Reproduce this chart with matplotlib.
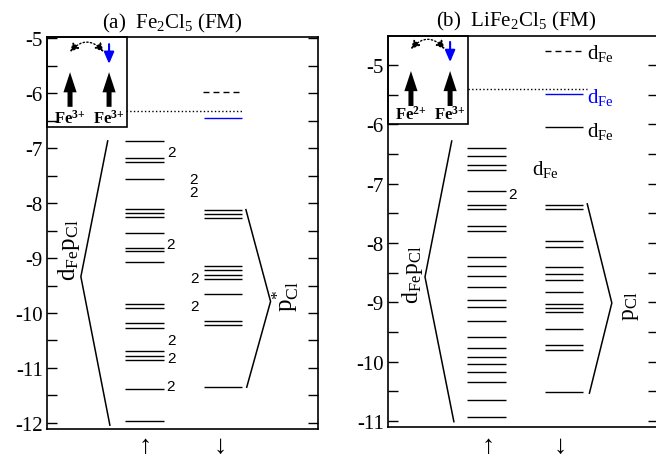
import numpy as np
import matplotlib
matplotlib.use("Agg")
import matplotlib.pyplot as plt
from matplotlib.patches import Rectangle, FancyArrowPatch
from matplotlib.ticker import MultipleLocator

plt.rcParams['font.family'] = ['Liberation Serif', 'DejaVu Sans']
plt.rcParams['mathtext.fontset'] = 'custom'
plt.rcParams['mathtext.rm'] = 'Liberation Serif'
plt.rcParams['mathtext.it'] = 'Liberation Serif:italic'
plt.rcParams['mathtext.bf'] = 'Liberation Serif:bold'
plt.rcParams['axes.unicode_minus'] = False

# (a) Fe2Cl5 levels (eV)
a_up = [-6.88, -7.18, -7.25, -7.56, -8.11, -8.18, -8.25, -8.55, -8.81, -8.88,
        -9.08, -9.84, -9.91, -10.19, -10.27, -10.70, -10.78, -10.86, -11.38, -11.96]
a_dn = [-8.13, -8.20, -8.27, -9.15, -9.22, -9.31, -9.38, -9.65, -10.14, -10.21, -11.35]
a_dn_dashed = -5.98
a_dn_blue = -6.46
a_fermi = -6.32
a_deg_x = [0.458, 0.542, 0.542, 0.455, 0.546, 0.546, 0.458, 0.458, 0.455]
a_deg_y = [-7.07, -7.56, -7.80, -8.74, -9.36, -9.88, -10.50, -10.81, -11.33]

# (b) LiFe2Cl5 levels (eV)
b_up = [-6.39, -6.53, -6.69, -6.77, -7.13, -7.36, -7.43, -7.72, -7.79, -8.24,
        -8.38, -8.56, -8.74, -8.96, -9.07, -9.32, -9.59, -9.77, -9.92, -10.04,
        -10.17, -10.34, -10.64, -10.93]
b_dn = [-7.36, -7.43, -7.96, -8.06, -8.40, -8.52, -8.62, -8.82, -9.03, -9.10,
        -9.16, -9.44, -9.72, -9.80, -10.51]
b_dn_dashed = -4.77
b_dn_blue = -5.49
b_dn_black = -6.04
b_fermi = -5.40
b_deg_x = [0.462]
b_deg_y = [-7.17]

fig = plt.figure(figsize=(6.56, 4.6), dpi=100)
axA = fig.add_axes([47/656, 1-430/460, 271/656, 392/460])
axB = fig.add_axes([388/656, 1-428/460, 270/656, 391/460])


def setup(ax, ylim, ticks):
    ax.set_xlim(0, 1)
    ax.set_ylim(ylim)
    ax.set_xticks([])
    ax.set_yticks(ticks)
    ax.yaxis.set_minor_locator(MultipleLocator(0.5))
    ax.tick_params(axis='y', which='both', direction='in', right=True,
                   length=7, width=1, labelsize=15, pad=3)
    for s in ax.spines.values():
        s.set_linewidth(1.2)


def inset(ax, xs, box_bot, box_top, up0, up1, bl0, bl1, arc_y, lab_y, labels):
    ax.add_patch(Rectangle((0, box_bot), 0.295, box_top-box_bot, fill=False,
                           lw=1.2, clip_on=False, zorder=5))
    for x in xs:
        ax.add_patch(FancyArrowPatch((x, up0), (x, up1),
                     arrowstyle='simple,head_width=0.95,head_length=1.45,tail_width=0.36',
                     mutation_scale=10, color='k', lw=0, shrinkA=0, shrinkB=0))
    ax.add_patch(FancyArrowPatch((xs[1], bl0), (xs[1], bl1),
                 arrowstyle='-|>,head_width=0.3,head_length=0.7',
                 mutation_scale=10, color='blue', lw=1.5, shrinkA=0, shrinkB=0))
    ax.add_patch(FancyArrowPatch((xs[0], arc_y), (xs[1]-0.02, arc_y),
                 arrowstyle='<|-|>,head_width=0.25,head_length=0.5',
                 connectionstyle='arc3,rad=-0.55', linestyle=':', lw=1,
                 mutation_scale=10, color='k', shrinkA=0, shrinkB=0))
    for x, l in zip(xs, labels):
        ax.text(x, lab_y, l, ha='center', va='baseline', fontsize=12)


# ---- panel (a)
setup(axA, (-12.11, -4.98), np.arange(-12, -4, 1))
axA.hlines(a_up, 0.288, 0.432, color='k', lw=1.0)
axA.hlines(a_dn, 0.579, 0.72, color='k', lw=1.0)
axA.hlines(a_dn_dashed, 0.576, 0.708, color='k', lw=1.0, linestyle=(0, (4.3, 2.9)))
axA.hlines(a_dn_blue, 0.579, 0.72, color='blue', lw=1.0)
axA.hlines(a_fermi, 0.292, 0.72, color='k', lw=1, linestyle=':')
for x, y in zip(a_deg_x, a_deg_y):
    axA.text(x, y, '2', ha='center', va='center', fontsize=11, family='Liberation Sans')
axA.plot([0.224, 0.125, 0.232], [-6.87, -9.34, -12.04], 'k-', lw=1.1)
axA.plot([0.734, 0.825, 0.737], [-8.12, -9.79, -11.35], 'k-', lw=1.1)
axA.text(0.080, -8.84, r'd$_{\rm Fe}$p$_{\rm Cl}$', rotation=90, ha='center', va='center', fontsize=18)
axA.text(0.880, -9.69, r'p$_{\rm Cl}^{*}$', rotation=90, ha='center', va='center', fontsize=18)
inset(axA, [0.085, 0.229], -6.61, -4.98, -6.25, -5.62, -5.11, -5.47, -5.25, -6.53,
      [r'$\mathbf{Fe^{3{+}}}$', r'$\mathbf{Fe^{3{+}}}$'])

# ---- panel (b)
setup(axB, (-11.10, -4.51), np.arange(-11, -4, 1))
axB.hlines(b_up, 0.291, 0.436, color='k', lw=1.0)
axB.hlines(b_dn, 0.581, 0.722, color='k', lw=1.0)
axB.hlines(b_dn_dashed, 0.581, 0.718, color='k', lw=1.0, linestyle=(0, (4.3, 2.9)))
axB.hlines(b_dn_blue, 0.581, 0.722, color='blue', lw=1.0)
axB.hlines(b_dn_black, 0.581, 0.722, color='k', lw=1.0)
axB.hlines(b_fermi, 0.295, 0.737, color='k', lw=1, linestyle=':')
for x, y in zip(b_deg_x, b_deg_y):
    axB.text(x, y, '2', ha='center', va='center', fontsize=11, family='Liberation Sans')
axB.plot([0.236, 0.137, 0.244], [-6.28, -8.57, -11.01], 'k-', lw=1.1)
axB.plot([0.738, 0.829, 0.746], [-7.34, -9.01, -10.53], 'k-', lw=1.1)
axB.text(0.090, -8.52, r'd$_{\rm Fe}$p$_{\rm Cl}$', rotation=90, ha='center', va='center', fontsize=17)
axB.text(0.898, -9.05, r'p$_{\rm Cl}$', rotation=90, ha='center', va='center', fontsize=17)
axB.text(0.737, b_dn_dashed-0.11, r'd$_{\rm Fe}$', va='baseline', fontsize=15)
axB.text(0.737, b_dn_blue-0.13, r'd$_{\rm Fe}$', va='baseline', fontsize=15, color='blue')
axB.text(0.737, b_dn_black-0.15, r'd$_{\rm Fe}$', va='baseline', fontsize=15)
axB.text(0.532, -6.84, r'd$_{\rm Fe}$', va='baseline', fontsize=15)
inset(axB, [0.085, 0.230], -5.99, -4.51, -5.69, -5.10, -4.61, -4.95, -4.73, -5.91,
      [r'$\mathbf{Fe^{2{+}}}$', r'$\mathbf{Fe^{3{+}}}$'])

# titles and spin arrows
fig.text(172.5/656, 1-28/460, r'(a)  Fe$_2$Cl$_5$ (FM)', ha='center', va='baseline', fontsize=15)
fig.text(516.5/656, 1-26/460, r'(b)  LiFe$_2$Cl$_5$ (FM)', ha='center', va='baseline', fontsize=15)
for x, s in zip([145, 220, 488, 560], ['↑', '↓', '↑', '↓']):
    fig.text(x/656, 1-447/460, s, ha='center', va='center', fontsize=19)

fig.savefig('out.png', dpi=100)
